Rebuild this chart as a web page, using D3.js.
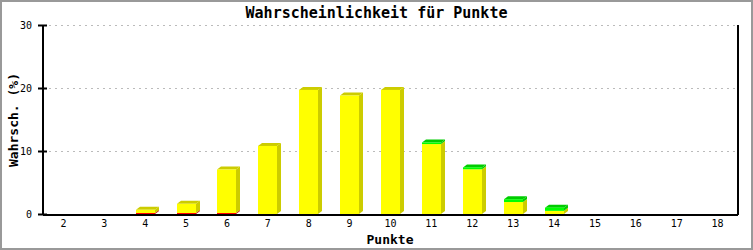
<!DOCTYPE html>
<html>
<head>
<meta charset="utf-8">
<script src="https://cdn.jsdelivr.net/npm/d3@7"></script>
<style>
 body { margin: 0; background: #fff; }
 text { font-family: "DejaVu Sans Mono", monospace; }
</style>
</head>
<body>
<div id="container"></div>
<script>
/* DATA */
const punkte = ["2","3","4","5","6","7","8","9","10","11","12","13","14","15","16","17","18"]
const rot   = [0, 0, 0.16, 0.16, 0.16, 0, 0, 0, 0, 0, 0, 0, 0, 0, 0, 0, 0]
const gelb  = [0, 0, 0.5, 1.45, 6.9, 10.8, 19.7, 18.8, 19.7, 11.1, 7.1, 1.9, 0.5, 0, 0, 0, 0]
const gruen = [0, 0, 0, 0, 0, 0, 0, 0, 0, 0.25, 0.3, 0.45, 0.5, 0, 0, 0, 0]
const yTicks = [0, 10, 20, 30]

/* CONSTANTS */
const width = 753, height = 250,
 margin = { top: 25, bottom: 36, left: 43, right: 15 }
const depth = { x: 4, y: 3 }
const colors = {
  rot:   { front: "#ff0000", side: "#cc0000", top: "#cc0000" },
  gelb:  { front: "#ffff00", side: "#cccc00", top: "#cccc00" },
  gruen: { front: "#00ff00", side: "#00cc00", top: "#00cc00" }
}

const rows = punkte.map((p, i) => ({ p, rot: rot[i], gelb: gelb[i], gruen: gruen[i] }))
const keys = ["rot", "gelb", "gruen"]
const stacked = d3.stack().keys(keys)(rows)

const xScale = d3.scaleBand()
  .domain(punkte)
  .range([margin.left, width - margin.right])

const yScale = d3.scaleLinear()
  .domain([0, 30])
  .range([height - margin.bottom, margin.top])

const svg = d3.select("#container")
  .append("svg")
  .attr("width", width)
  .attr("height", height)

// frame
svg.append("rect")
  .attr("x", 1).attr("y", 1)
  .attr("width", width - 2).attr("height", height - 2)
  .attr("fill", "none").attr("stroke", "#999").attr("stroke-width", 2)

// grid
svg.selectAll("line.grid")
  .data(yTicks.filter(d => d > 0))
  .join("line")
  .attr("class", "grid")
  .attr("x1", margin.left).attr("x2", width - margin.right)
  .attr("y1", d => yScale(d) + 0.5).attr("y2", d => yScale(d) + 0.5)
  .attr("stroke", "#bbb").attr("stroke-dasharray", "2,4")

// bars
const barW = 19
const topKey = i => {
  for (let k = keys.length - 1; k >= 0; k--) if (rows[i][keys[k]] > 0) return keys[k]
  return null
}
stacked.forEach(layer => {
  const c = colors[layer.key]
  const g = svg.append("g")
  layer.forEach((d, i) => {
    if (d[1] - d[0] <= 0) return
    const x0 = Math.round(xScale(punkte[i]) + xScale.bandwidth() / 2 - barW / 2)
    const y0 = yScale(d[0]), y1 = yScale(d[1])
    // side
    g.append("polygon")
      .attr("points", [[x0 + barW, y0], [x0 + barW + depth.x, y0 - depth.y],
        [x0 + barW + depth.x, y1 - depth.y], [x0 + barW, y1]].join(" "))
      .attr("fill", c.side)
    if (topKey(i) === layer.key) {
      g.append("polygon")
        .attr("points", [[x0, y1], [x0 + depth.x, y1 - depth.y],
          [x0 + barW + depth.x, y1 - depth.y], [x0 + barW, y1]].join(" "))
        .attr("fill", c.top)
    }
    g.append("rect")
      .attr("x", x0).attr("y", y1)
      .attr("width", barW).attr("height", y0 - y1)
      .attr("fill", c.front)
  })
})

// axes lines
const bottom = yScale(0) + 1
svg.append("line")
  .attr("x1", margin.left).attr("x2", width - margin.right)
  .attr("y1", bottom).attr("y2", bottom)
  .attr("stroke", "#000").attr("stroke-width", 2)
svg.append("line")
  .attr("x1", margin.left).attr("x2", margin.left)
  .attr("y1", margin.top).attr("y2", bottom)
  .attr("stroke", "#000").attr("stroke-width", 2)
svg.append("line")
  .attr("x1", width - margin.right).attr("x2", width - margin.right)
  .attr("y1", margin.top).attr("y2", bottom)
  .attr("stroke", "#000").attr("stroke-width", 2)

// y ticks
svg.selectAll("line.ytick")
  .data(yTicks)
  .join("line")
  .attr("x1", margin.left - 5).attr("x2", margin.left + 4)
  .attr("y1", d => yScale(d) + 0.5).attr("y2", d => yScale(d) + 0.5)
  .attr("stroke", "#000").attr("stroke-width", 2)
svg.selectAll("text.ytick")
  .data(yTicks)
  .join("text")
  .attr("x", margin.left - 11)
  .attr("y", d => yScale(d) + 3.5)
  .attr("text-anchor", "end")
  .attr("font-size", 10)
  .text(d => d)

// x labels
svg.selectAll("text.xtick")
  .data(punkte)
  .join("text")
  .attr("x", d => xScale(d) + xScale.bandwidth() / 2)
  .attr("y", yScale(0) + 13)
  .attr("text-anchor", "middle")
  .attr("font-size", 10)
  .text(d => d)

// titles
svg.append("text")
  .attr("x", width / 2).attr("y", 18)
  .attr("text-anchor", "middle")
  .attr("font-size", 15).attr("font-weight", "bold")
  .text("Wahrscheinlichkeit für Punkte")
svg.append("text")
  .attr("x", 390).attr("y", 244)
  .attr("text-anchor", "middle")
  .attr("font-size", 13).attr("font-weight", "bold")
  .text("Punkte")
svg.append("text")
  .attr("transform", "translate(18,120) rotate(-90)")
  .attr("text-anchor", "middle")
  .attr("font-size", 13).attr("font-weight", "bold")
  .text("Wahrsch. (%)")
</script>
</body>
</html>
